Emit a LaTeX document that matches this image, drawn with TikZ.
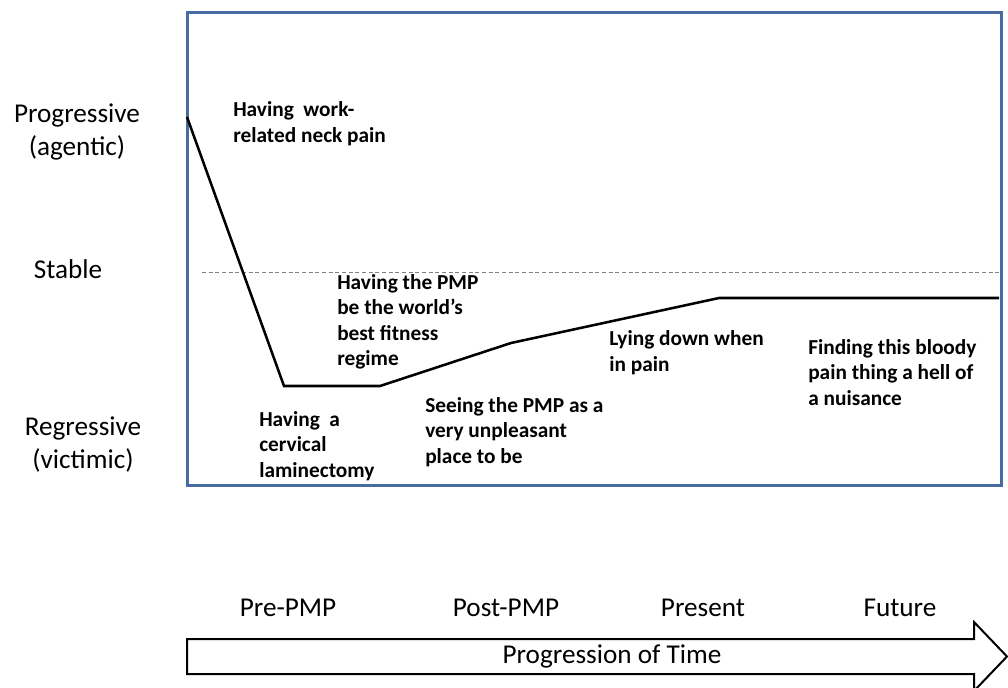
\documentclass[tikz,border=0pt]{standalone}
\usepackage{fontspec}
\setmainfont{Carlito}
\begin{document}
\begin{tikzpicture}[x=0.75pt,y=-0.75pt,
  frameblue/.style={draw={rgb,255:red,72;green,108;blue,162},line width=1.9pt},
  trend/.style={draw=black,line width=1.9pt,line join=miter},
  stableline/.style={draw=gray,line width=0.7pt,dash pattern=on 3pt off 2pt},
  eventlab/.style={font=\bfseries\fontsize{16}{19}\selectfont,align=left,inner sep=0pt,anchor=base west},
  axislab/.style={font=\fontsize{20.4}{24.75}\selectfont,align=center,inner sep=0pt,anchor=base},
  timelab/.style={font=\fontsize{20.4}{24.75}\selectfont,inner sep=0pt,anchor=base},
  timearrow/.style={draw=black,line width=1.5pt,fill=white,line join=miter}]
\clip (0,0) rectangle (1008,687);
\fill[white] (0,0) rectangle (1008,687);

% plot frame
\node[frameblue,minimum width=814*0.75pt,minimum height=473*0.75pt,inner sep=0pt,anchor=north west] (frame) at (186,11) {};

% stable reference level
\coordinate (s0) at (202,272);
\coordinate (s1) at (1000,272);
\draw[stableline] (s0) -- (s1);

% narrative trend
\coordinate (p0) at (187,117);
\coordinate (p1) at (284,386);
\coordinate (p2) at (380,386);
\coordinate (p3) at (511,343);
\coordinate (p4) at (719,298);
\coordinate (p5) at (999,298);
\draw[trend] (p0) -- (p1) -- (p2) -- (p3) -- (p4) -- (p5);

% events (positioned by the baseline of their last line)
\node[eventlab] (neck) at (233,142) {Having\ \ work-\\related neck pain};
\node[eventlab] (fitness) at (337,365.5) {Having the PMP\\be the world’s\\best fitness\\regime};
\node[eventlab] (lamin) at (259,477) {Having\ \ a\\cervical\\laminectomy};
\node[eventlab] (seeing) at (425,463) {Seeing the PMP as a\\very unpleasant\\place to be};
\node[eventlab] (lying) at (609,371) {Lying down when\\in pain};
\node[eventlab] (finding) at (808,405) {Finding this bloody\\pain thing a hell of\\a nuisance};

% vertical scale
\node[axislab] (prog) at (77,155) {Progressive\\(agentic)};
\node[axislab] (stab) at (68,278) {Stable};
\node[axislab] (regr) at (83,468) {Regressive\\(victimic)};

% time periods
\node[timelab] (pre) at (288,616) {Pre-PMP};
\node[timelab] (post) at (506,616) {Post-PMP};
\node[timelab] (pres) at (703,616) {Present};
\node[timelab] (fut) at (900,616) {Future};

% time arrow
\coordinate (a0) at (187,639);
\coordinate (a1) at (974,639);
\coordinate (a2) at (974,622);
\coordinate (a3) at (1007,656.5);
\coordinate (a4) at (974,691);
\coordinate (a5) at (974,674);
\coordinate (a6) at (187,674);
\draw[timearrow] (a0) -- (a1) -- (a2) -- (a3) -- (a4) -- (a5) -- (a6) -- cycle;
\node[font=\fontsize{20.4}{24.75}\selectfont,inner sep=0pt] (ptime) at (612,656) {Progression of Time};
\end{tikzpicture}
\end{document}
